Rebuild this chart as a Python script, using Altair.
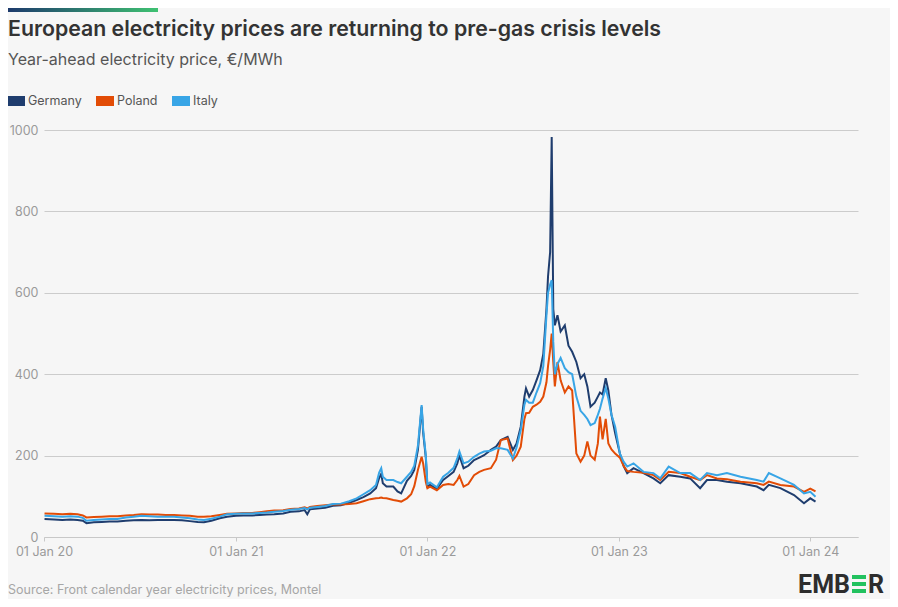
import altair as alt
import pandas as pd

# ---- data ----
countries = ["Germany", "Poland", "Italy"]
colors = ["#1f3d6e", "#e24c06", "#38a5e6"]

dates = [
    # 2020
    "2020-01-02", "2020-01-20", "2020-02-05", "2020-02-20", "2020-03-05", "2020-03-15", "2020-03-22",
    "2020-04-05", "2020-04-20", "2020-05-05", "2020-05-20", "2020-06-05", "2020-06-20", "2020-07-05",
    "2020-07-20", "2020-08-05", "2020-08-20", "2020-09-05", "2020-09-20", "2020-10-05", "2020-10-20",
    "2020-11-01", "2020-11-15", "2020-12-01", "2020-12-15",
    # 2021
    "2021-01-01", "2021-01-15", "2021-02-01", "2021-02-15", "2021-03-01", "2021-03-15", "2021-04-01",
    "2021-04-15", "2021-05-01", "2021-05-12", "2021-05-17", "2021-05-22", "2021-06-05", "2021-06-20",
    "2021-07-05", "2021-07-20", "2021-08-05", "2021-08-19", "2021-09-01", "2021-09-14", "2021-09-25",
    "2021-10-01", "2021-10-05", "2021-10-08", "2021-10-15", "2021-10-28", "2021-11-05", "2021-11-12",
    "2021-11-23", "2021-12-01", "2021-12-07", "2021-12-14", "2021-12-21", "2021-12-24", "2021-12-29",
    # 2022
    "2022-01-01", "2022-01-06", "2022-01-19", "2022-01-31", "2022-02-10", "2022-02-20", "2022-02-27",
    "2022-03-03", "2022-03-11", "2022-03-20", "2022-03-31", "2022-04-10", "2022-04-19", "2022-05-02",
    "2022-05-12", "2022-05-21", "2022-06-03", "2022-06-13", "2022-06-20", "2022-06-28", "2022-07-05",
    "2022-07-08", "2022-07-14", "2022-07-21", "2022-07-28", "2022-08-04", "2022-08-10", "2022-08-16",
    "2022-08-19", "2022-08-23", "2022-08-26", "2022-08-29", "2022-09-01", "2022-09-06", "2022-09-12",
    "2022-09-20", "2022-09-27", "2022-10-04", "2022-10-12", "2022-10-20", "2022-10-27", "2022-11-02",
    "2022-11-08", "2022-11-16", "2022-11-22", "2022-11-26", "2022-12-01", "2022-12-07", "2022-12-12",
    "2022-12-18", "2022-12-25",
    # 2023-24
    "2023-01-03", "2023-01-10", "2023-01-17", "2023-01-29", "2023-02-17", "2023-03-08", "2023-03-21",
    "2023-04-06", "2023-04-28", "2023-05-17", "2023-06-05", "2023-06-18", "2023-07-07", "2023-07-26",
    "2023-08-21", "2023-09-21", "2023-10-04", "2023-10-14", "2023-11-05", "2023-12-01", "2023-12-20",
    "2024-01-01", "2024-01-11",
]

germany = [
    44, 43, 42, 43, 42, 40, 34, 36, 37, 38, 38, 40, 41, 42, 41, 42, 42, 42, 41, 39, 37, 36, 40, 46, 50,
    52, 53, 53, 54, 55, 56, 58, 62, 63, 66, 56, 68, 70, 72, 77, 78, 84, 91, 98, 107, 120, 145, 155, 132,
    124, 124, 112, 107, 138, 150, 165, 215, 320, 255, 195,
    124, 128, 118, 140, 150, 160, 181, 200, 169, 175, 189, 195, 201, 214, 222, 238, 246, 214, 230, 271,
    345, 365, 345, 361, 385, 410, 450, 560, 640, 700, 983, 560, 520, 545, 505, 520, 470, 455, 430, 390,
    400, 370, 320, 330, 345, 355, 350, 390, 360, 300, 255,
    205, 175, 157, 169, 157, 144, 132, 152, 148, 144, 120, 140, 140, 136, 132, 124, 115, 128, 120, 103,
    83, 95, 87,
]

poland = [
    58, 57, 56, 57, 56, 53, 48, 49, 50, 51, 51, 53, 54, 56, 55, 55, 54, 54, 53, 52, 50, 50, 51, 54, 57,
    58, 59, 59, 61, 63, 65, 66, 69, 70, 73, 70, 74, 76, 78, 80, 80, 81, 83, 88, 93, 95, 96, 97, 96,
    95, 91, 89, 87, 95, 105, 125, 165, 197, 180, 135,
    120, 124, 115, 128, 130, 128, 140, 150, 124, 130, 152, 160, 165, 169, 190, 238, 242, 189, 200, 222,
    290, 304, 305, 320, 325, 332, 345, 380, 420, 460, 500, 430, 370, 430, 385, 355, 370, 360, 205, 185,
    200, 235, 200, 190, 230, 296, 240, 290, 230, 215, 205,
    195, 175, 162, 160, 158, 152, 140, 160, 157, 148, 140, 152, 144, 142, 136, 132, 128, 136, 128, 124,
    111, 119, 112,
]

italy = [
    52, 51, 50, 51, 50, 47, 40, 42, 43, 44, 44, 48, 50, 52, 51, 50, 50, 50, 48, 46, 43, 42, 45, 50, 56,
    57, 58, 58, 59, 60, 62, 64, 67, 69, 71, 68, 72, 74, 76, 81, 82, 88, 95, 105, 115, 128, 158, 169, 148,
    140, 140, 135, 132, 148, 160, 175, 225, 324, 263, 200,
    130, 134, 122, 148, 158, 170, 193, 210, 181, 185, 197, 205, 210, 212, 218, 218, 214, 193, 220, 263,
    325, 337, 330, 330, 355, 378, 420, 545, 600, 620, 631, 480, 400, 425, 440, 415, 405, 400, 345, 310,
    300, 290, 275, 280, 300, 315, 340, 366, 340, 300, 271,
    205, 185, 173, 181, 160, 157, 144, 173, 157, 157, 140, 157, 152, 157, 148, 140, 136, 157, 144, 128,
    107, 111, 99,
]

y_ticks = [0, 200, 400, 600, 800, 1000]
x_tick_years = [2020, 2021, 2022, 2023, 2024]

title_text = "European electricity prices are returning to pre-gas crisis levels"
subtitle_text = "Year-ahead electricity price, €/MWh"
source_text = "Source: Front calendar year electricity prices, Montel"

# ---- table ----
series = {"Germany": germany, "Poland": poland, "Italy": italy}
rows = []
for c in countries:
    for d, v in zip(dates, series[c]):
        rows.append({"date": d, "country": c, "price": v})
df = pd.DataFrame(rows)

FONT = "Inter"
W, H = 814, 407

x_enc = alt.X(
    "date:T",
    scale=alt.Scale(
        type="utc",
        domain=[alt.DateTime(year=2020, month=1, date=1, utc=True),
                alt.DateTime(year=2024, month=4, date=1, utc=True)],
    ),
    axis=alt.Axis(
        values=[alt.DateTime(year=y, month=1, date=1, utc=True) for y in x_tick_years],
        labelExpr="utcFormat(datum.value, '%d %b %y')", title=None, grid=False,
        domain=True, domainColor="#c8c8c8", ticks=True, tickColor="#c8c8c8", tickSize=4,
        labelPadding=4, labelColor="#9a9a9a", labelFontSize=12.5, labelFont=FONT,
        labelFlush=False,
    ),
)
y_enc = alt.Y(
    "price:Q",
    scale=alt.Scale(domain=[0, 1000], nice=False),
    axis=alt.Axis(
        values=y_ticks, format="d", title=None, grid=True, gridColor="#cccccc", domain=False,
        ticks=False, labelPadding=6, labelColor="#9a9a9a", labelFontSize=12.5, labelFont=FONT,
    ),
)

legend = alt.Legend(
    title=None, orient="none", legendX=-42, legendY=-43, direction="horizontal",
    symbolType="M-1,0L1,0", symbolSize=324, symbolStrokeWidth=10,
    labelFont=FONT, labelFontSize=12.5, labelColor="#555555",
    labelOffset=alt.ExprRef(expr="-2"), columnPadding=alt.ExprRef(expr="-6"),
)
color_enc = alt.Color("country:N", scale=alt.Scale(domain=countries, range=colors), legend=legend)

layers = []
for c in countries:
    layers.append(
        alt.Chart(df).transform_filter(alt.datum.country == c)
        .mark_line(strokeWidth=2)
        .encode(x=x_enc, y=y_enc, color=color_enc)
    )

one = alt.Data(values=[{"k": 1}])

top_bar = alt.Chart(one).mark_rect(
    color=alt.LinearGradient(gradient="linear", x1=0, x2=1, y1=0, y2=0,
                             stops=[alt.GradientStop(offset=0, color="#1d3a6c"),
                                    alt.GradientStop(offset=1, color="#3fc172")])
).encode(x=alt.value(-36), x2=alt.value(114), y=alt.value(-122), y2=alt.value(-118))

title = alt.Chart(one).mark_text(
    text=title_text, align="left", baseline="alphabetic", font=FONT, fontSize=21.3, fontWeight=600,
    color="#333333"
).encode(x=alt.value(-36), y=alt.value(-94))

subtitle = alt.Chart(one).mark_text(
    text=subtitle_text, align="left", baseline="alphabetic", font=FONT, fontSize=16,
    color="#555555"
).encode(x=alt.value(-36), y=alt.value(-65))

source = alt.Chart(one).mark_text(
    text=source_text, align="left", baseline="alphabetic", font=FONT, fontSize=12.5, color="#a6a6a6"
).encode(x=alt.value(-36), y=alt.value(464))

logo_emb = alt.Chart(one).mark_text(
    text="EMB", align="right", baseline="alphabetic", font="Roboto", fontSize=25, fontWeight="bold",
    color="#2d2d2d"
).encode(x=alt.value(806), y=alt.value(463))
logo_r = alt.Chart(one).mark_text(
    text="R", align="left", baseline="alphabetic", font="Roboto", fontSize=25, fontWeight="bold",
    color="#2d2d2d"
).encode(x=alt.value(824), y=alt.value(463))
logo_bars = [
    alt.Chart(one).mark_rect(color="#22c25f").encode(
        x=alt.value(808), x2=alt.value(822), y=alt.value(y0), y2=alt.value(y0 + 4))
    for y0 in (445, 452, 459)
]

chart = alt.layer(*layers, top_bar, title, subtitle, source, logo_emb, logo_r, *logo_bars).properties(
    width=W, height=H,
    padding={"left": 36, "top": 122, "right": 32, "bottom": 62},
    autosize=alt.AutoSizeParams(type="none"),
    background="#f6f6f6",
).configure_view(stroke=None)

chart.save("out.html", embed_options={"renderer": "svg", "actions": False})
